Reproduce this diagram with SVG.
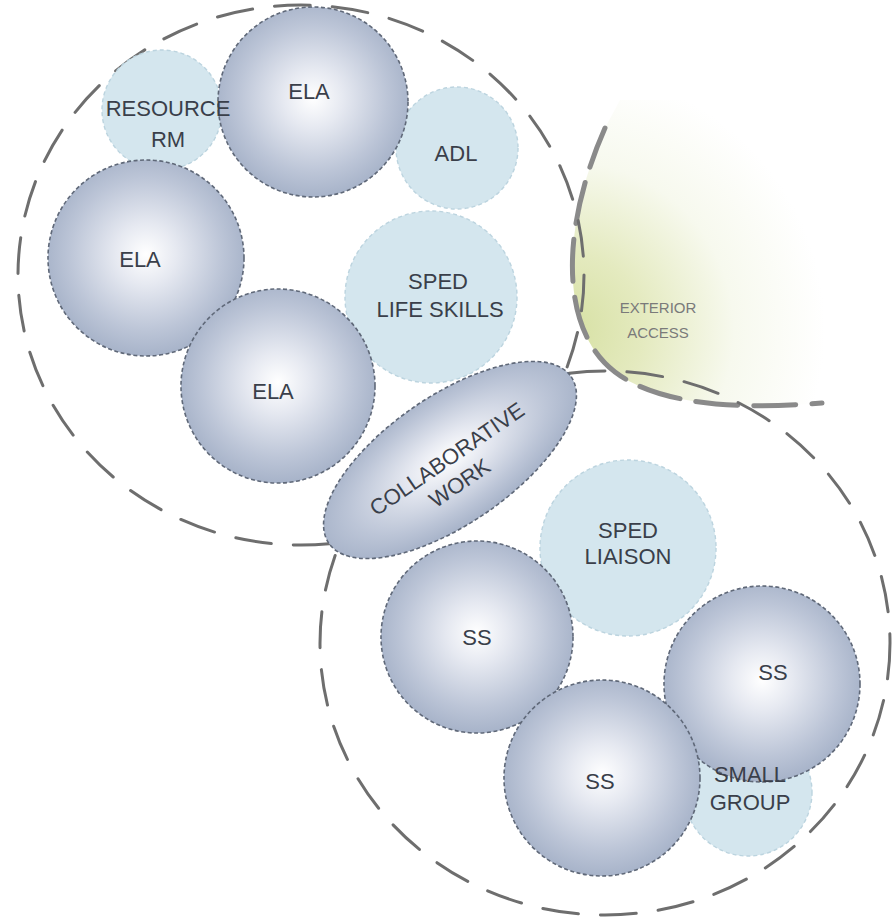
<svg xmlns="http://www.w3.org/2000/svg" width="892" height="922" viewBox="0 0 892 922">
<defs>
<radialGradient id="gDark" cx="50%" cy="48%" r="52%">
<stop offset="0" stop-color="#ffffff"/>
<stop offset="0.3" stop-color="#e6e9f1"/>
<stop offset="0.75" stop-color="#bcc5d7"/>
<stop offset="1" stop-color="#a7b3c9"/>
</radialGradient>
<radialGradient id="gExt" cx="565" cy="330" r="260" gradientUnits="userSpaceOnUse">
<stop offset="0" stop-color="#d6e0a2"/>
<stop offset="0.3" stop-color="#e4eabf"/>
<stop offset="0.65" stop-color="#f7f9ee"/>
<stop offset="1" stop-color="#ffffff"/>
</radialGradient>
<style>
.zone{fill:none;stroke:#6e6e6e;stroke-width:3;stroke-dasharray:36 22;stroke-linecap:round}
.dark{fill:url(#gDark);stroke:#5f6878;stroke-width:1.6;stroke-dasharray:4 2.5}
.light{fill:#d4e6ee;stroke:#bcd4df;stroke-width:1.4;stroke-dasharray:4 3}
.lbl{font-family:"Liberation Sans",Arial,sans-serif;font-size:22px;fill:#3a3f4a;text-anchor:middle}
.ext{font-family:"Liberation Sans",Arial,sans-serif;font-size:15px;fill:#7a7a7a;text-anchor:middle}
</style>
</defs>
<rect width="892" height="922" fill="#ffffff"/>

<g id="exterior-access">
<path d="M605,128 C560,230 560,330 615,372 C665,410 760,408 822,403 L892,403 L892,100 L620,100 Z" fill="url(#gExt)" stroke="none"/>
<path d="M605,128 C560,230 560,330 615,372 C665,410 760,408 822,403" fill="none" stroke="#8a8a8a" stroke-width="5" stroke-dasharray="42 16" stroke-linecap="round"/>
<text class="ext" x="658" y="313">EXTERIOR</text>
<text class="ext" x="658" y="338">ACCESS</text>
</g>

<g id="zones">
<ellipse class="zone" cx="301" cy="275" rx="283" ry="270"/>
<ellipse class="zone" cx="605" cy="643" rx="285" ry="272"/>
</g>

<g id="connectors"></g>

<g id="resource-rm"><circle class="light" cx="162" cy="110" r="60"/></g>
<g id="adl"><circle class="light" cx="457" cy="148" r="61"/></g>
<g id="sped-life-skills"><circle class="light" cx="431" cy="297" r="86"/></g>
<g id="sped-liaison"><circle class="light" cx="628" cy="548" r="88"/></g>
<g id="small-group"><circle class="light" cx="748" cy="792" r="64"/></g>

<g id="ela-top"><circle class="dark" cx="313" cy="102" r="95"/><text class="lbl" x="309" y="99">ELA</text></g>
<g id="ela-left"><circle class="dark" cx="146" cy="258" r="98"/><text class="lbl" x="140" y="267">ELA</text></g>
<g id="ela-mid"><circle class="dark" cx="278" cy="386" r="97"/><text class="lbl" x="273" y="399">ELA</text></g>
<g id="collaborative-work" transform="translate(450,460) rotate(-34.5)">
<ellipse class="dark" cx="0" cy="0" rx="147" ry="64"/>
<text class="lbl" x="-2" y="5" font-size="20">COLLABORATIVE</text>
<text class="lbl" x="-5" y="32" font-size="20">WORK</text>
</g>
<g id="ss-left"><circle class="dark" cx="477" cy="637" r="96"/><text class="lbl" x="477" y="645">SS</text></g>
<g id="ss-right"><circle class="dark" cx="762" cy="684" r="98"/><text class="lbl" x="773" y="680">SS</text></g>
<g id="ss-bottom"><circle class="dark" cx="602" cy="778" r="98"/><text class="lbl" x="600" y="789">SS</text></g>

<g id="labels-light">
<text class="lbl" x="168" y="116">RESOURCE</text>
<text class="lbl" x="168" y="147">RM</text>
<text class="lbl" x="456" y="161">ADL</text>
<text class="lbl" x="438" y="289">SPED</text>
<text class="lbl" x="440" y="317">LIFE SKILLS</text>
<text class="lbl" x="628" y="538">SPED</text>
<text class="lbl" x="628" y="564">LIAISON</text>
<text class="lbl" x="750" y="782">SMALL</text>
<text class="lbl" x="750" y="810">GROUP</text>
</g>
</svg>
